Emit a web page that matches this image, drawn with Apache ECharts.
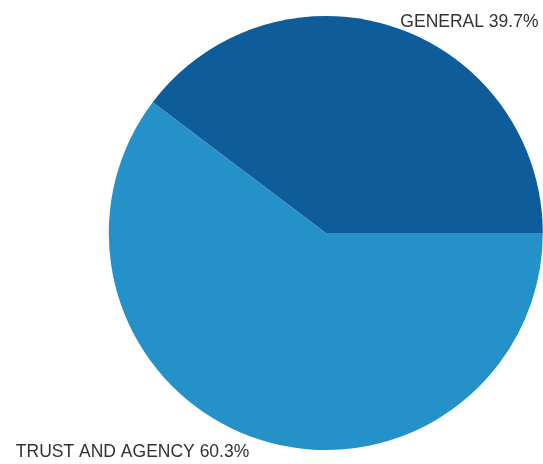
<!DOCTYPE html>
<html>
<head>
<meta charset="utf-8">
<script src="https://cdn.jsdelivr.net/npm/echarts@6/dist/echarts.min.js"></script>
<style>html,body{margin:0;padding:0;background:#fff}#c{width:543px;height:464px}</style>
</head>
<body>
<div id="c"></div>
<script>
const categories = ['GENERAL', 'TRUST AND AGENCY'];
const values = [39.7, 60.3];
const colors = ['#0e5c9a', '#2491c9'];

const chart = echarts.init(document.getElementById('c'), null, {renderer: 'canvas'});
chart.setOption({
  animation: false,
  series: [{
    type: 'pie',
    center: ['60%', 233],
    radius: 217,
    startAngle: 0,
    clockwise: false,
    avoidLabelOverlap: false,
    data: categories.map((n, i) => ({name: n, value: values[i], itemStyle: {color: colors[i]}})),
    itemStyle: {borderWidth: 0},
    label: {
      show: true,
      position: 'outside',
      formatter: p => p.name + ' ' + p.value.toFixed(1) + '%',
      fontFamily: "'Liberation Sans', Arial, sans-serif",
      fontSize: 17.5,
      color: '#333333'
    },
    labelLine: {show: false, length: 8, length2: 0},
    labelLayout: p => (p.dataIndex === 0 ? {dx: -2, dy: 2} : {dx: 0, dy: 6}),
    emphasis: {disabled: true}
  }]
});
</script>
</body>
</html>
